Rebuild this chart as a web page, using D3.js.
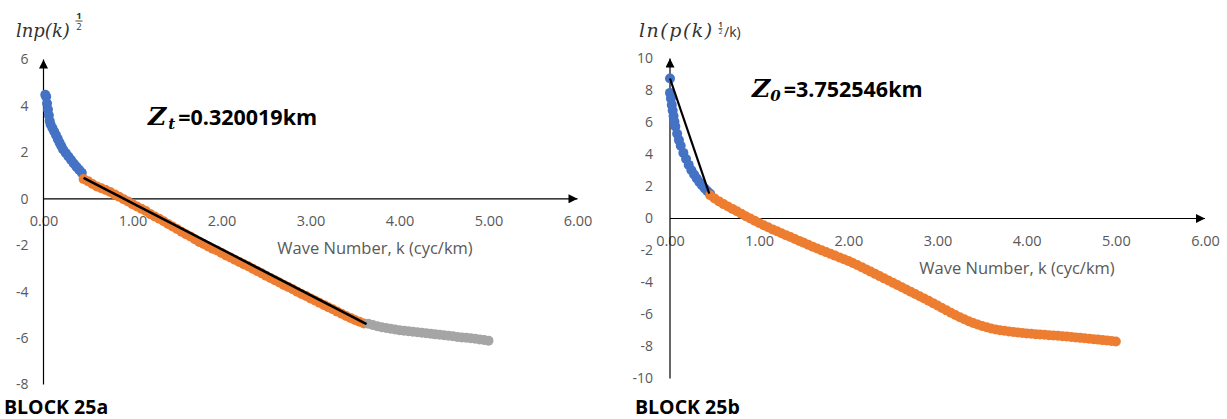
<!DOCTYPE html>
<html>
<head>
<meta charset="utf-8">
<script src="https://cdn.jsdelivr.net/npm/d3@7"></script>
<style>
  html, body { margin: 0; padding: 0; background: #fff; }
  svg { display: block; }
</style>
</head>
<body>
<svg id="chart" width="1227" height="419"></svg>
<script>
// ---------------- DATA ----------------
const xTickValues = [0, 1, 2, 3, 4, 5, 6];
const leftYTickValues = [-8, -6, -4, -2, 0, 2, 4, 6];
const rightYTickValues = [-10, -8, -6, -4, -2, 0, 2, 4, 6, 8, 10];

// Block 25a (left)
const leftBlueK = [0.02,0.03,0.04,0.05,0.06,0.07,0.08,0.10,0.12,0.14,0.16,0.18,0.20,0.22,0.25,0.28,0.31,0.34,0.37,0.40,0.43];
const leftBlueY = [4.48,4.40,4.10,3.85,3.60,3.35,3.20,3.05,2.90,2.75,2.58,2.42,2.27,2.12,1.97,1.82,1.67,1.52,1.38,1.25,1.12];

const leftOrangeK = [0.45,0.50,0.55,0.60,0.65,0.70,0.75,0.80,0.85,0.90,0.95,1.00,1.05,1.10,1.15,1.20,1.25,1.30,1.35,1.40,1.45,1.50,1.55,1.60,1.65,1.70,1.75,1.80,1.85,1.90,1.95,2.00,2.05,2.10,2.15,2.20,2.25,2.30,2.35,2.40,2.45,2.50,2.55,2.60,2.65,2.70,2.75,2.80,2.85,2.90,2.95,3.00,3.05,3.10,3.15,3.20,3.25,3.30,3.35,3.40,3.45,3.50,3.55,3.60];
const leftOrangeY = [0.85,0.76,0.64,0.53,0.45,0.38,0.29,0.19,0.09,-0.02,-0.12,-0.23,-0.33,-0.43,-0.53,-0.66,-0.76,-0.86,-0.97,-1.09,-1.19,-1.30,-1.42,-1.53,-1.62,-1.74,-1.86,-1.95,-2.05,-2.15,-2.23,-2.33,-2.44,-2.53,-2.63,-2.72,-2.82,-2.91,-3.01,-3.11,-3.21,-3.31,-3.41,-3.51,-3.61,-3.71,-3.80,-3.90,-4.00,-4.10,-4.19,-4.29,-4.38,-4.48,-4.57,-4.67,-4.76,-4.86,-4.95,-5.05,-5.13,-5.22,-5.30,-5.37];

const leftGrayK = [3.65,3.70,3.75,3.80,3.85,3.90,3.95,4.00,4.05,4.10,4.15,4.20,4.25,4.30,4.35,4.40,4.45,4.50,4.55,4.60,4.65,4.70,4.75,4.80,4.85,4.90,4.95,5.00];
const leftGrayY = [-5.38,-5.44,-5.49,-5.53,-5.57,-5.60,-5.63,-5.66,-5.68,-5.71,-5.73,-5.75,-5.77,-5.79,-5.81,-5.84,-5.86,-5.88,-5.90,-5.92,-5.95,-5.97,-5.99,-6.01,-6.03,-6.06,-6.08,-6.11];

const leftFitK = [0.45, 3.63];
const leftFitY = [0.90, -5.40];

// Block 25b (right)
const rightBlueK = [0.00,0.00,0.01,0.02,0.03,0.04,0.05,0.06,0.08,0.10,0.12,0.15,0.18,0.21,0.24,0.27,0.30,0.33,0.36,0.39,0.42,0.45];
const rightBlueY = [8.75,7.85,7.50,7.10,6.75,6.40,6.05,5.75,5.30,4.90,4.55,4.10,3.72,3.35,3.02,2.75,2.50,2.27,2.06,1.88,1.70,1.55];

const rightOrangeK = [0.45,0.50,0.55,0.60,0.65,0.70,0.75,0.80,0.85,0.90,0.95,1.00,1.05,1.10,1.15,1.20,1.25,1.30,1.35,1.40,1.45,1.50,1.55,1.60,1.65,1.70,1.75,1.80,1.85,1.90,1.95,2.00,2.05,2.10,2.15,2.20,2.25,2.30,2.35,2.40,2.45,2.50,2.55,2.60,2.65,2.70,2.75,2.80,2.85,2.90,2.95,3.00,3.05,3.10,3.15,3.20,3.25,3.30,3.35,3.40,3.45,3.50,3.55,3.60,3.65,3.70,3.75,3.80,3.85,3.90,3.95,4.00,4.05,4.10,4.15,4.20,4.25,4.30,4.35,4.40,4.45,4.50,4.55,4.60,4.65,4.70,4.75,4.80,4.85,4.90,4.95,5.00];
const rightOrangeY = [1.45,1.25,1.07,0.90,0.75,0.60,0.45,0.30,0.14,0.00,-0.14,-0.28,-0.42,-0.55,-0.68,-0.80,-0.92,-1.04,-1.16,-1.28,-1.40,-1.52,-1.64,-1.76,-1.88,-1.99,-2.10,-2.21,-2.32,-2.43,-2.54,-2.65,-2.78,-2.91,-3.04,-3.18,-3.32,-3.46,-3.60,-3.74,-3.88,-4.02,-4.16,-4.30,-4.44,-4.58,-4.72,-4.86,-5.00,-5.14,-5.29,-5.44,-5.59,-5.74,-5.89,-6.03,-6.17,-6.30,-6.42,-6.53,-6.63,-6.72,-6.80,-6.87,-6.93,-6.98,-7.02,-7.06,-7.09,-7.12,-7.15,-7.18,-7.20,-7.23,-7.25,-7.27,-7.29,-7.31,-7.33,-7.36,-7.38,-7.41,-7.43,-7.46,-7.48,-7.51,-7.54,-7.57,-7.60,-7.63,-7.66,-7.69];

const rightFitK = [0.00, 0.44];
const rightFitY = [8.75, 1.55];

// ---------------- DRAWING ----------------
const svg = d3.select("#chart");
const BLUE = "#4472C4", ORANGE = "#ED7D31", GRAY = "#A5A5A5";
const TICK_COLOR = "#595959";
const TICK_FONT = "'Open Sans', sans-serif";

const defs = svg.append("defs");
defs.append("marker").attr("id", "arrowEnd")
  .attr("viewBox", "0 0 10 10").attr("refX", 10).attr("refY", 5)
  .attr("markerUnits", "userSpaceOnUse")
  .attr("markerWidth", 10).attr("markerHeight", 9)
  .attr("orient", "auto")
  .append("path").attr("d", "M0,0 L10,5 L0,10 Z").attr("fill", "#000");

function zip(ks, ys) { return ks.map((k, i) => ({k, y: ys[i]})); }

function drawPanel(cfg) {
  const x = d3.scaleLinear().domain([0, 6]).range(cfg.xRange);
  const y = d3.scaleLinear().domain(cfg.yDomain).range(cfg.yRange);
  const g = svg.append("g");

  // x axis tick labels
  const xAxis = d3.axisBottom(x).tickValues(xTickValues)
    .tickFormat(d => d.toFixed(2)).tickSize(0).tickPadding(17);
  const gx = g.append("g").attr("transform", `translate(0,${y(0)})`).call(xAxis);
  gx.select(".domain").remove();
  gx.selectAll("text").attr("fill", TICK_COLOR).style("font-family", TICK_FONT).style("font-size", "14.5px");

  // y axis tick labels (plain hyphen minus, as in the reference)
  const yAxis = d3.axisLeft(y).tickValues(cfg.yTicks)
    .tickFormat(d => String(d)).tickSize(0).tickPadding(cfg.yPad);
  const gy = g.append("g").attr("transform", `translate(${x(0)},0)`).call(yAxis);
  gy.select(".domain").remove();
  gy.selectAll("text").attr("fill", TICK_COLOR).style("font-family", TICK_FONT).style("font-size", "14px");

  // axis lines with arrows
  g.append("line")
    .attr("x1", x(0)).attr("x2", x(0))
    .attr("y1", y(cfg.yDomain[0])).attr("y2", y(cfg.yDomain[1]))
    .attr("stroke", "#000").attr("stroke-width", 1.2)
    .attr("marker-end", "url(#arrowEnd)");
  g.append("line")
    .attr("x1", x(0)).attr("x2", x(6))
    .attr("y1", y(0)).attr("y2", y(0))
    .attr("stroke", "#000").attr("stroke-width", 1.2)
    .attr("marker-end", "url(#arrowEnd)");

  // x axis title
  g.append("text")
    .attr("x", cfg.titleX).attr("y", y(0) + 55)
    .attr("text-anchor", "middle")
    .attr("fill", TICK_COLOR)
    .style("font-family", TICK_FONT).style("font-size", "16.5px")
    .text("Wave Number, k (cyc/km)");

  // series
  cfg.series.forEach(s => {
    g.append("g").selectAll("circle").data(zip(s.k, s.y)).join("circle")
      .attr("cx", d => x(d.k)).attr("cy", d => y(d.y))
      .attr("r", 5).attr("fill", s.color);
  });

  // fitted line
  const line = d3.line().x(d => x(d.k)).y(d => y(d.y));
  g.append("path").datum(zip(cfg.fitK, cfg.fitY))
    .attr("d", line).attr("fill", "none")
    .attr("stroke", "#000").attr("stroke-width", cfg.fitWidth);

  return {x, y, g};
}

drawPanel({
  xRange: [43.5, 577.5], yDomain: [-8, 6], yRange: [384.5, 59.5],
  yTicks: leftYTickValues, yPad: 15, titleX: 375,
  series: [
    {k: leftBlueK, y: leftBlueY, color: BLUE},
    {k: leftOrangeK, y: leftOrangeY, color: ORANGE},
    {k: leftGrayK, y: leftGrayY, color: GRAY}
  ],
  fitK: leftFitK, fitY: leftFitY, fitWidth: 2.5
});

drawPanel({
  xRange: [670, 1205], yDomain: [-10, 10], yRange: [378.5, 58.5],
  yTicks: rightYTickValues, yPad: 17, titleX: 1017,
  series: [
    {k: rightBlueK, y: rightBlueY, color: BLUE},
    {k: rightOrangeK, y: rightOrangeY, color: ORANGE}
  ],
  fitK: rightFitK, fitY: rightFitY, fitWidth: 2.2
});

// ---------------- ANNOTATIONS ----------------
const SERIF = "'DejaVu Serif', serif";

// Left y-axis title: lnp(k)^(1/2)
svg.append("text").attr("x", 16).attr("y", 37)
  .style("font-family", SERIF).style("font-style", "italic").style("font-size", "18px")
  .attr("fill", "#333")
  .text("lnp(k)");
svg.append("text").attr("x", 79).attr("y", 19).attr("text-anchor", "middle")
  .style("font-family", TICK_FONT).style("font-size", "9.5px").style("font-weight", "bold").attr("fill", "#333").text("1");
svg.append("line").attr("x1", 75.5).attr("x2", 82.5).attr("y1", 21).attr("y2", 21).attr("stroke", "#333").attr("stroke-width", 0.9);
svg.append("text").attr("x", 79).attr("y", 30).attr("text-anchor", "middle")
  .style("font-family", TICK_FONT).style("font-size", "9.5px").attr("fill", "#333").text("2");

// Right y-axis title: ln(p(k)^(1/2)/k)
svg.append("text").attr("x", 639).attr("y", 37)
  .style("font-family", SERIF).style("font-style", "italic").style("font-size", "19px")
  .style("letter-spacing", "1.5px")
  .attr("fill", "#333")
  .text("ln(p(k)");
svg.append("text").attr("x", 720.5).attr("y", 27).attr("text-anchor", "middle")
  .style("font-family", TICK_FONT).style("font-size", "6.5px").style("font-weight", "bold").attr("fill", "#333").text("1");
svg.append("line").attr("x1", 718.5).attr("x2", 722.5).attr("y1", 28.5).attr("y2", 28.5).attr("stroke", "#333").attr("stroke-width", 0.7);
svg.append("text").attr("x", 720.5).attr("y", 34).attr("text-anchor", "middle")
  .style("font-family", TICK_FONT).style("font-size", "6.5px").attr("fill", "#333").text("2");
svg.append("text").attr("x", 724).attr("y", 37)
  .style("font-family", TICK_FONT).style("font-size", "14px").attr("fill", "#333")
  .text("/k)");

// Z labels
function zLabel(xPos, yBase, sub, rest, subDx, restDx) {
  const t = svg.append("text").attr("x", xPos).attr("y", yBase).attr("fill", "#000");
  t.append("tspan").style("font-family", SERIF).style("font-style", "italic")
    .style("font-weight", "bold").style("font-size", "25px").text("Z");
  t.append("tspan").attr("dy", 4).attr("dx", subDx).style("font-family", SERIF).style("font-style", "italic")
    .style("font-weight", "bold").style("font-size", "15px").text(sub);
  t.append("tspan").attr("dy", -4).attr("dx", restDx).style("font-family", TICK_FONT)
    .style("font-weight", "bold").style("font-size", "21.5px").text(rest);
}
zLabel(148, 125, "t", "=0.320019km", 2, 3);
zLabel(752, 97, "0", "=3.752546km", 0, 3);

// Block labels
svg.append("text").attr("x", 4).attr("y", 413.5)
  .style("font-family", TICK_FONT).style("font-weight", "bold").style("font-size", "19.5px")
  .attr("fill", "#000").text("BLOCK 25a");
svg.append("text").attr("x", 635).attr("y", 413.5)
  .style("font-family", TICK_FONT).style("font-weight", "bold").style("font-size", "19.5px")
  .attr("fill", "#000").text("BLOCK 25b");
</script>
</body>
</html>
